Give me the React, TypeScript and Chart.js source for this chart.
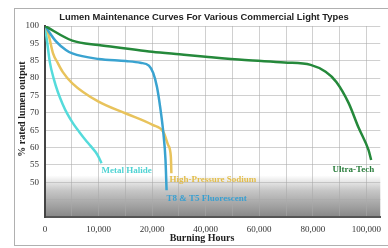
import React, { useEffect, useRef } from "react";
import { Chart, registerables } from "chart.js";
Chart.register(...registerables);

const chartTitle = "Lumen Maintenance Curves For Various Commercial Light Types";
const xAxisTitle = "Burning Hours";
const yAxisTitle = "% rated lumen output";
const xTickLabels = ["0", "10,000", "20,000", "40,000", "60,000", "80,000", "100,000"];
const yTickLabels = ["100", "95", "85", "80", "75", "70", "65", "60", "55", "50"];
const seriesNames = ["Ultra-Tech", "T8 & T5 Fluorescent", "High-Pressure Sodium", "Metal Halide"];

const ultraHours = [0, 5100, 10000, 15100, 20000, 30200, 40000, 54600, 69400, 79200, 84800, 88800, 93400, 97000, 100800, 101800];
const ultraOutput = [100, 95.8, 94, 92.1, 90.2, 88.7, 87.3, 85.4, 84.5, 83.8, 81.8, 78.9, 72.8, 65.9, 59.3, 56.4];

const t8Hours = [0, 2100, 3900, 5100, 10000, 15100, 17800, 19400, 20400, 21800, 23000, 24200, 25000, 25400];
const t8Output = [100, 95.5, 91.2, 89.2, 86, 84.9, 84.4, 83.6, 81.5, 77.5, 71.7, 64.2, 56.4, 47.7];

const hpsHours = [0, 600, 1500, 2400, 3300, 5100, 10000, 15100, 20200, 24200, 26000, 27000, 27200];
const hpsOutput = [100, 97.9, 89.3, 84.3, 81.8, 78.5, 73.2, 69.8, 66.5, 64.5, 60.7, 57.3, 52.6];

const mhHours = [0, 400, 900, 1650, 2400, 3300, 4200, 5300, 6400, 7450, 8550, 9450, 10000, 10550];
const mhOutput = [100, 95.4, 84.6, 79.7, 76.0, 72.5, 69.6, 66.8, 64.5, 62.4, 60.4, 58.7, 57.3, 55.5];

const seriesColors = ["#25893b", "#3aa3d0", "#e8c35c", "#55dbdb"];
const labelColors = ["#2a7d3c", "#3a9fd0", "#e2bc48", "#4fd3d3"];

// The printed axes are not linear in their labels: convert label units to axis positions
const hoursToPos = (h: number) => (h <= 20000 ? h / 10000 : 2 + (h - 20000) / 20000);
const outputToPos = (v: number) => (v >= 95 ? v : v <= 85 ? v + 5 : 90 + (v - 85) / 2);

const toPoints = (hs: number[], vs: number[]) => hs.map((h, i) => ({ x: hoursToPos(h), y: outputToPos(vs[i]) }));

const allSeries = [
  toPoints(ultraHours, ultraOutput),
  toPoints(t8Hours, t8Output),
  toPoints(hpsHours, hpsOutput),
  toPoints(mhHours, mhOutput),
];

// label anchor offsets relative to each series' last point: [dx, dy, align]
const labelOffsets: [number, number, CanvasTextAlign][] = [
  [3, 10, "right"],
  [0, 8, "left"],
  [-2, 6, "left"],
  [0, 7, "left"],
];

const decorPlugin = {
  id: "decor",
  beforeDraw(chart: any) {
    const { ctx, chartArea, scales } = chart;
    ctx.save();
    ctx.fillStyle = "#ffffff";
    ctx.fillRect(0, 0, chart.width, chart.height);
    const yTop = scales.y.getPixelForValue(57);
    const g = ctx.createLinearGradient(0, yTop, 0, chartArea.bottom);
    g.addColorStop(0, "rgba(255,255,255,1)");
    g.addColorStop(0.35, "rgba(200,200,200,1)");
    g.addColorStop(1, "rgba(135,135,135,1)");
    ctx.fillStyle = g;
    ctx.fillRect(chartArea.left, yTop, chartArea.right - chartArea.left, chartArea.bottom - yTop);
    ctx.strokeStyle = "#b0b0b0";
    ctx.lineWidth = 1;
    ctx.strokeRect(14.5, 8.5, 380, 237);
    ctx.restore();
  },
  afterDraw(chart: any) {
    const { ctx } = chart;
    ctx.save();
    ctx.fillStyle = "#222";
    ctx.textAlign = "center";
    ctx.textBaseline = "middle";
    ctx.font = "bold 9.4px 'Liberation Sans', Arial, sans-serif";
    ctx.fillText(chartTitle, 204, 17);
    ctx.font = "bold 10px 'Liberation Serif', serif";
    ctx.fillText(xAxisTitle, 202, 238);
    ctx.save();
    ctx.translate(22, 109);
    ctx.rotate(-Math.PI / 2);
    ctx.fillText(yAxisTitle, 0, 0);
    ctx.restore();
    ctx.font = "bold 9px 'Liberation Serif', serif";
    chart.data.datasets.forEach((ds: any, i: number) => {
      const meta = chart.getDatasetMeta(i);
      const last = meta.data[meta.data.length - 1];
      const [dx, dy, align] = labelOffsets[i];
      ctx.fillStyle = labelColors[i];
      ctx.textAlign = align;
      ctx.fillText(ds.label, last.x + dx, last.y + dy);
    });
    ctx.restore();
  },
};

export default function App() {
  const ref = useRef<HTMLCanvasElement>(null);
  useEffect(() => {
    if (!ref.current) return;
    const chart = new Chart(ref.current, {
      type: "line",
      data: {
        datasets: allSeries.map((pts, i) => ({
          label: seriesNames[i],
          data: pts,
          borderColor: seriesColors[i],
          borderWidth: 2.5,
          pointRadius: 0,
          fill: false,
          cubicInterpolationMode: "monotone" as const,
        })),
      },
      options: {
        animation: false,
        responsive: false,
        maintainAspectRatio: false,
        layout: { padding: { left: 14, top: 26, right: 1, bottom: 0 } },
        plugins: { legend: { display: false }, tooltip: { enabled: false }, title: { display: false } },
        scales: {
          x: {
            type: "linear",
            min: 0,
            max: 6.26,
            afterFit: (s: any) => { s.height = 31; },
            grid: { color: "rgba(170,170,170,0.55)", drawTicks: false, lineWidth: 1 },
            border: { color: "#555", width: 2 },
            ticks: {
              stepSize: 0.5,
              includeBounds: false,
              autoSkip: false,
              maxRotation: 0,
              padding: 7,
              color: "#333",
              font: { family: "'Liberation Serif', serif", size: 9 },
              callback: (v: any) => {
                const n = Number(v);
                return Number.isInteger(n) && xTickLabels[n] !== undefined ? xTickLabels[n] : "";
              },
            },
          },
          y: {
            type: "linear",
            min: 45,
            max: 100,
            afterFit: (s: any) => { s.width = 31; },
            grid: { color: "rgba(170,170,170,0.55)", drawTicks: false, lineWidth: 1 },
            border: { color: "#444", width: 2 },
            ticks: {
              stepSize: 5,
              autoSkip: false,
              padding: 6,
              color: "#333",
              font: { family: "'Liberation Serif', serif", size: 9 },
              callback: (v: any) => {
                const idx = Math.round((100 - Number(v)) / 5);
                return yTickLabels[idx] !== undefined ? yTickLabels[idx] : "";
              },
            },
          },
        },
      },
      plugins: [decorPlugin],
    });
    return () => chart.destroy();
  }, []);
  return (
    <div style={{ position: "fixed", left: 0, top: 0, width: 388, height: 248 }}>
      <canvas ref={ref} width={388} height={248} style={{ width: 388, height: 248 }} />
    </div>
  );
}
